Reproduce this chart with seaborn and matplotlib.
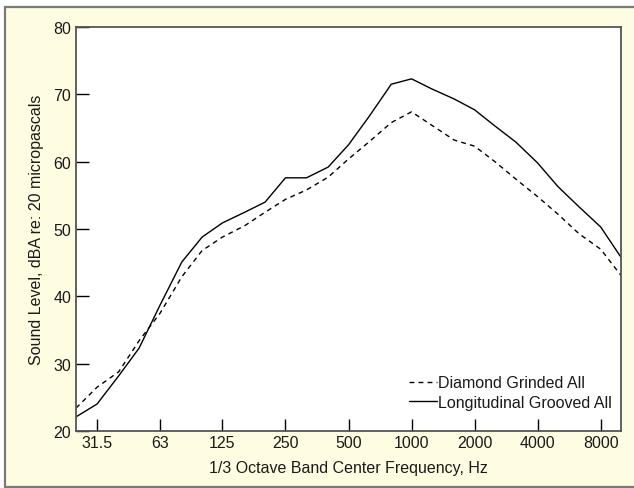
import numpy as np
import pandas as pd
import matplotlib.pyplot as plt
import matplotlib.ticker as mticker
from matplotlib.patches import Rectangle
import seaborn as sns

# 1/3 octave band centre frequencies, Hz
freqs = [25, 31.5, 40, 50, 63, 80, 100, 125, 160, 200, 250, 315, 400, 500,
         630, 800, 1000, 1250, 1600, 2000, 2500, 3150, 4000, 5000, 6300, 8000, 10000]

# sound levels, dBA
diamond_grinded = [23.4, 26.5, 28.8, 33.4, 37.5, 42.9, 46.8, 48.8, 50.5, 52.5, 54.4, 55.8, 57.7, 60.4,
                   63.0, 65.8, 67.4, 65.4, 63.2, 62.3, 60.0, 57.4, 54.8, 52.2, 49.3, 47.0, 43.1]
long_grooved = [22.1, 24.0, 28.2, 32.3, 38.7, 45.1, 48.8, 50.9, 52.5, 54.0, 57.6, 57.6, 59.2, 62.5,
                66.8, 71.5, 72.3, 70.8, 69.3, 67.7, 65.3, 62.9, 59.8, 56.3, 53.3, 50.3, 45.8]

series_names = ["Diamond Grinded All", "Longitudinal Grooved All"]
tick_freqs = [31.5, 63, 125, 250, 500, 1000, 2000, 4000, 8000]
tick_labels = ["31.5", "63", "125", "250", "500", "1000", "2000", "4000", "8000"]

df = pd.DataFrame({
    "freq": freqs * 2,
    "level": diamond_grinded + long_grooved,
    "surface": [series_names[0]] * len(freqs) + [series_names[1]] * len(freqs),
})

sns.set_style("ticks")
plt.rcParams["font.family"] = ["Liberation Sans", "DejaVu Sans"]

W, H = 634, 489
fs = 11.5
fig = plt.figure(figsize=(W / 100, H / 100), dpi=100, facecolor="white")

# cream panel behind the chart (open on the right side)
panel = Rectangle((5 / W, 1 / H), 1.2, (H - 8) / H - 1 / H,
                  transform=fig.transFigure, facecolor="#FFFDE1",
                  edgecolor="#7a7a7a", linewidth=1.6, zorder=-10)
fig.add_artist(panel)

ax = fig.add_axes([76 / W, 1 - 432 / H, (621 - 76) / W, (432 - 28) / H])
ax.set_zorder(5)
ax.set_facecolor("white")

sns.lineplot(data=df, x="freq", y="level", style="surface", style_order=series_names,
             dashes={series_names[0]: (3.5, 3), series_names[1]: ""},
             color="black", linewidth=1.0, ax=ax, legend=True)

ax.set_xscale("log", base=2)
ax.set_xlim(25, 10000)
ax.set_ylim(20, 80)
ax.xaxis.set_major_locator(mticker.FixedLocator(tick_freqs))
ax.xaxis.set_major_formatter(mticker.FixedFormatter(tick_labels))
ax.xaxis.set_minor_locator(mticker.NullLocator())
ax.set_yticks([20, 30, 40, 50, 60, 70, 80])

ax.tick_params(axis="both", direction="in", length=9, width=1, color="black",
               labelsize=fs, labelcolor="#1a1a1a")
ax.tick_params(axis="x", pad=3)
ax.tick_params(axis="y", pad=3.5)

for s in ax.spines.values():
    s.set_color("#555555")
    s.set_linewidth(1.3)
    s.set_visible(True)

ax.set_xlabel("1/3 Octave Band Center Frequency, Hz", fontsize=fs, color="#1a1a1a", labelpad=7)
ax.set_ylabel("Sound Level, dBA re: 20 micropascals", fontsize=fs, color="#1a1a1a", labelpad=7)

handles, labels = ax.get_legend_handles_labels()
leg = ax.legend(handles, labels, loc="lower right", bbox_to_anchor=(0.983, 0.052),
                frameon=False, fontsize=fs, handlelength=1.75, handletextpad=0.06,
                labelspacing=0.3, borderpad=0, borderaxespad=0)
for t in leg.get_texts():
    t.set_color("#1a1a1a")

fig.savefig("out.png", dpi=100, facecolor=fig.get_facecolor())
